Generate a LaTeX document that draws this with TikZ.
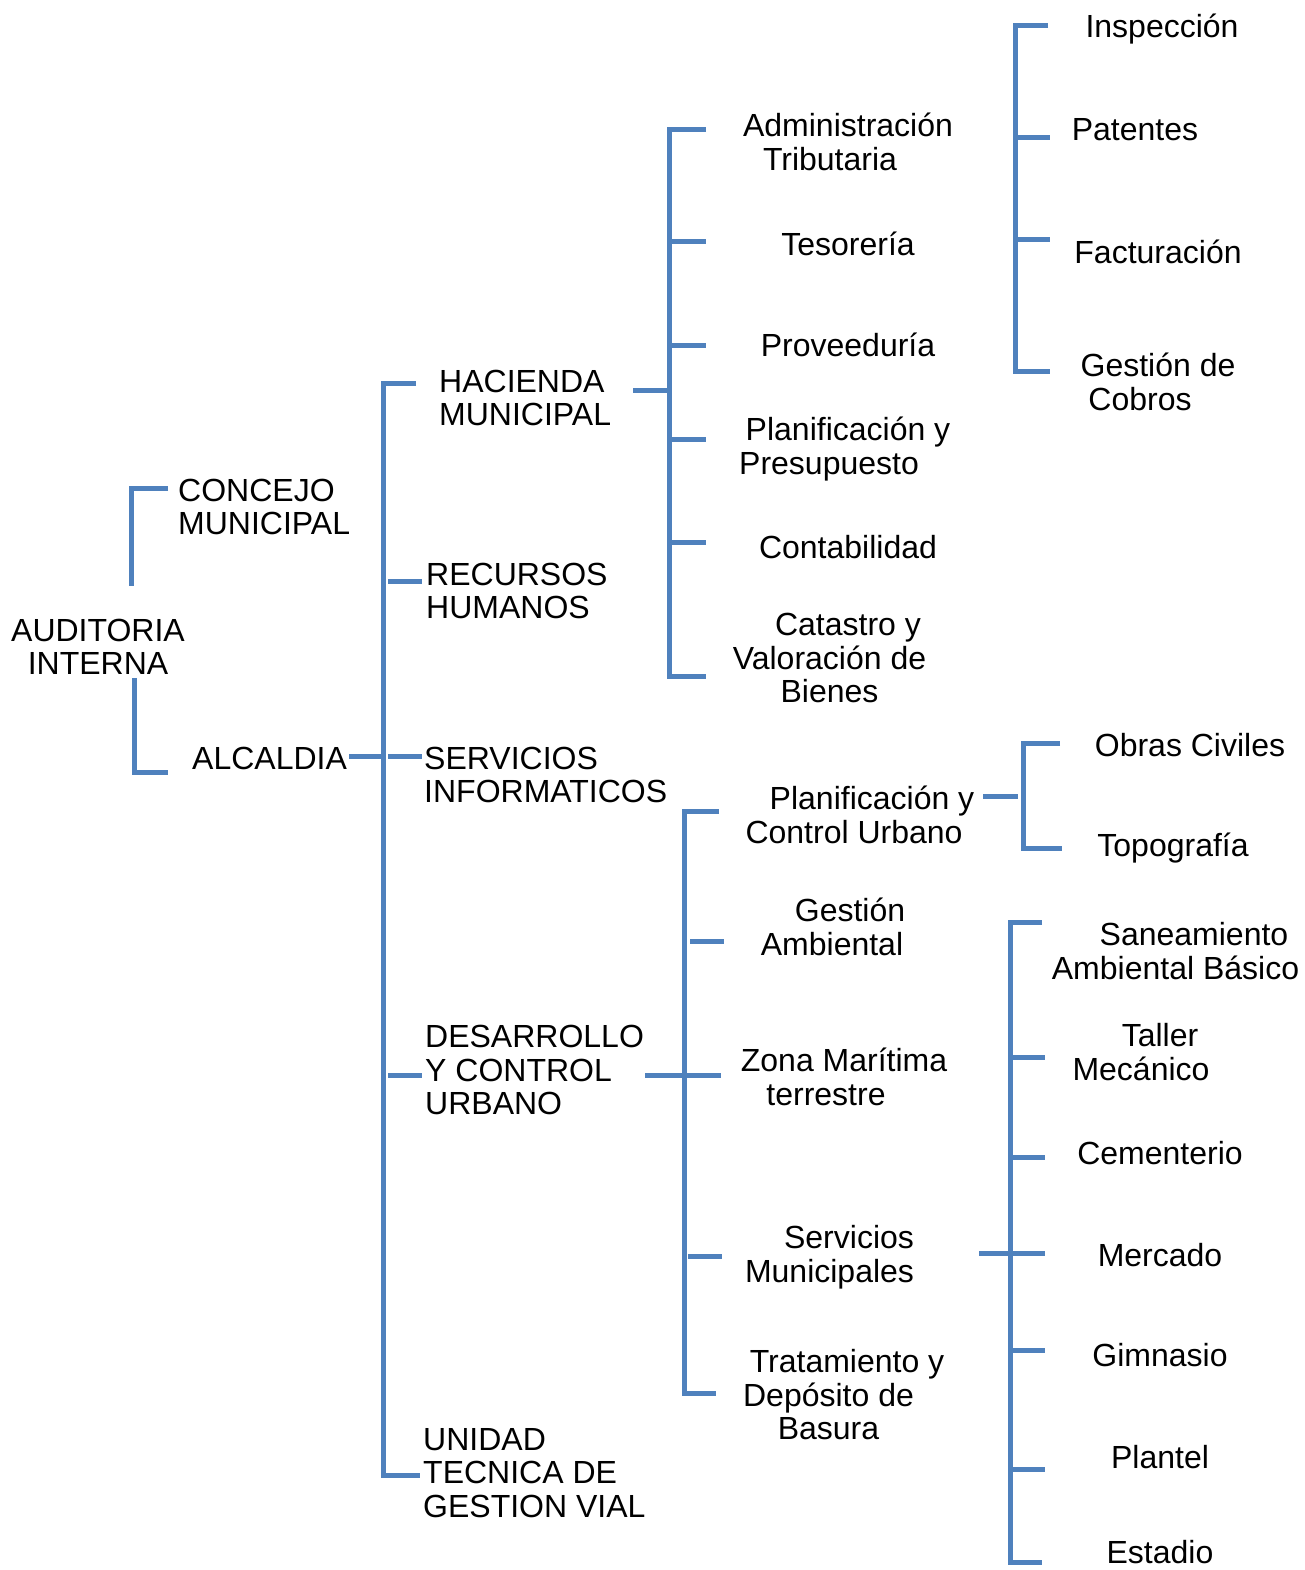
\documentclass[tikz,border=0pt]{standalone}
\usepackage{fontspec}
\setmainfont{Liberation Sans}
\definecolor{linkblue}{RGB}{79,129,189}
\newcommand\padr[1]{\rule{#1}{0pt}}
\begin{document}
\begin{tikzpicture}[x=1pt,y=-1pt,
  lbl/.style={inner sep=0pt,font=\fontsize{32}{33.5}\selectfont,align=center,yshift=-2pt},
  lbll/.style={inner sep=0pt,font=\fontsize{32}{33.5}\selectfont,align=left,anchor=west,yshift=-2pt},
  link/.style={draw=linkblue,line width=5pt,line join=miter}]
\useasboundingbox (0,0) rectangle (1305,1570);
% ---- texts
\node[lbl] (aud) at (98,645) {AUDITORIA\\INTERNA};
\node[lbll] (con) at (178,505) {CONCEJO\\MUNICIPAL};
\node[lbll] (alc) at (192,756) {ALCALDIA};
\node[lbll] (hac) at (439,396) {HACIENDA\\MUNICIPAL};
\node[lbll] (rec) at (426,589) {RECURSOS\\HUMANOS};
\node[lbll] (ser) at (424,773) {SERVICIOS\\INFORMATICOS};
\node[lbll] (des) at (425,1068) {DESARROLLO\\Y CONTROL\\URBANO};
\node[lbll] (uni) at (423,1471) {UNIDAD\\TECNICA DE\\GESTION VIAL};
% hacienda children
\node[lbl] (adm) at (848,140) {Administración\\Tributaria\padr{36pt}};
\node[lbl] (tes) at (848,242) {Tesorería};
\node[lbl] (prv) at (848,343) {Proveeduría};
\node[lbl] (ppr) at (848,447) {Planificación y\\Presupuesto\padr{38pt}};
\node[lbl] (cnt) at (848,545) {Contabilidad};
\node[lbl] (cat) at (848,656) {Catastro y\\Valoración de\padr{37pt}\\Bienes\padr{37pt}};
% administracion children
\node[lbl] (ins) at (1162,27) {Inspección};
\node[lbl] (pat) at (1135,128) {Patentes};
\node[lbl] (fac) at (1158,250) {Facturación};
\node[lbl] (gco) at (1158,380) {Gestión de\\Cobros\padr{36pt}};
% desarrollo children
\node[lbl] (pcu) at (872,813) {Planificación y\\Control Urbano\padr{36pt}};
\node[lbl] (gam) at (850,925) {Gestión\\Ambiental\padr{36pt}};
\node[lbl] (zmt) at (844,1075) {Zona Marítima\\terrestre\padr{36pt}};
\node[lbl] (smu) at (849,1255) {Servicios\\Municipales\padr{39pt}};
\node[lbl] (tdb) at (847,1393) {Tratamiento y\\Depósito de\padr{37pt}\\Basura\padr{37pt}};
% planificacion children
\node[lbl] (obr) at (1190,743) {Obras Civiles};
\node[lbl] (top) at (1173,846) {Topografía};
% servicios children
\node[lbl] (san) at (1194,949) {Saneamiento\\Ambiental Básico\padr{37pt}};
\node[lbl] (tal) at (1160,1050) {Taller\\Mecánico\padr{38pt}};
\node[lbl] (cem) at (1160,1151) {Cementerio};
\node[lbl] (mer) at (1160,1253) {Mercado};
\node[lbl] (gim) at (1160,1353) {Gimnasio};
\node[lbl] (plt) at (1160,1455) {Plantel};
\node[lbl] (est) at (1160,1550) {Estadio};
% ---- connectors
% auditoria
\draw[link] (168,488) -- (131,488) -- (131,586);
\draw[link] (134,678) -- (134,772) -- (168,772);
% alcaldia
\draw[link] (349,756) -- (383,756);
\draw[link] (416,383) -- (383,383) -- (383,1475) -- (420,1475);
\draw[link] (388,581) -- (422,581);
\draw[link] (388,756) -- (422,756);
\draw[link] (388,1075) -- (422,1075);
% hacienda
\draw[link] (633,390) -- (669,390);
\draw[link] (706,130) -- (669,130) -- (669,676) -- (706,676);
\foreach \yy in {242,345,439,542} \draw[link] (669,\yy) -- (706,\yy);
% administracion
\draw[link] (1048,26) -- (1015,26) -- (1015,371) -- (1050,371);
\foreach \yy in {138,240} \draw[link] (1015,\yy) -- (1050,\yy);
% desarrollo
\draw[link] (645,1075) -- (721,1075);
\draw[link] (719,811) -- (684,811) -- (684,1393) -- (716,1393);
\draw[link] (690,941) -- (724,941);
\draw[link] (688,1256) -- (722,1256);
% planificacion y control urbano
\draw[link] (983,796) -- (1018,796);
\draw[link] (1060,743) -- (1023,743) -- (1023,848) -- (1062,848);
% servicios municipales
\draw[link] (979,1253) -- (1045,1253);
\draw[link] (1042,922) -- (1010,922) -- (1010,1562) -- (1042,1562);
\foreach \yy in {1057,1157,1350,1469} \draw[link] (1010,\yy) -- (1045,\yy);
\end{tikzpicture}
\end{document}
